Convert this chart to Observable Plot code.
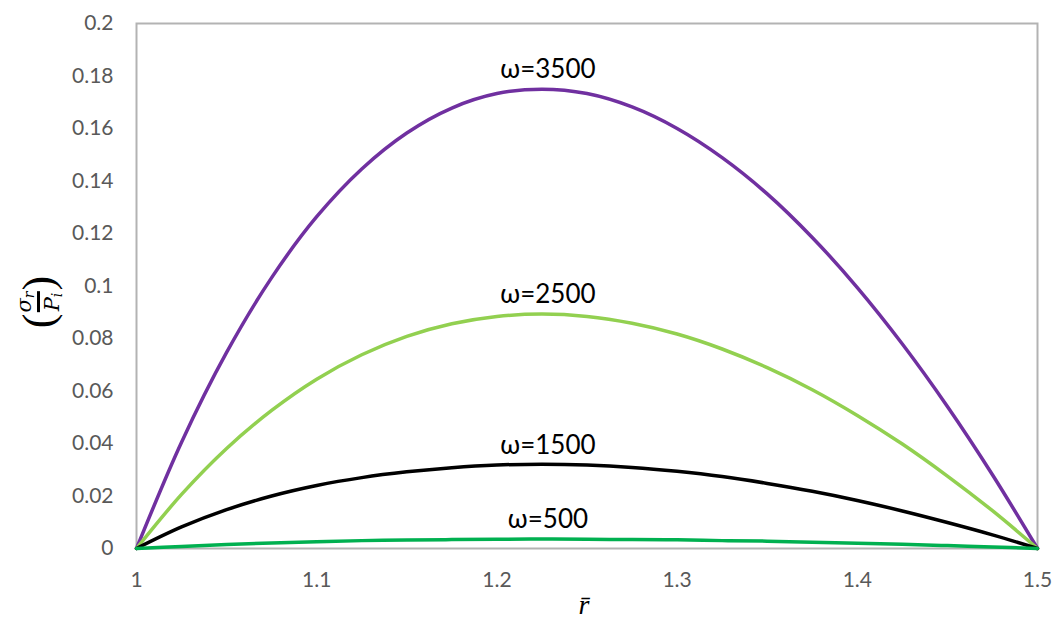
<!DOCTYPE html>
<html>
<head>
<meta charset="utf-8">
<script src="https://cdn.jsdelivr.net/npm/d3@7"></script>
<script src="https://cdn.jsdelivr.net/npm/@observablehq/plot@0.6"></script>
<style>
  html, body { margin: 0; padding: 0; background: #fff; }
  #wrap { position: relative; width: 1054px; height: 619px; overflow: hidden; }
  #ylab {
    position: absolute; left: 39px; top: 302px;
    transform: translate(-50%, -50%) rotate(-90deg);
    font-family: "DejaVu Serif", "Liberation Serif", serif; font-style: italic;
    display: flex; align-items: center; font-size: 21px; color: #000; white-space: nowrap;
  }
  #ylab .paren { font-style: normal; font-size: 44px; line-height: 1; font-family: "Liberation Serif", serif; }
  #ylab .frac { display: inline-flex; flex-direction: column; align-items: center; line-height: 1.0; margin: 0 1px; }
  #ylab .bar { width: 100%; border-top: 3px solid #000; margin: 1px 0 2px 0; }
  #ylab sub { font-size: 14px; vertical-align: -3px; }
  #xlab {
    position: absolute; left: 564px; width: 40px; top: 594px; height: 22px;
    text-align: center;
    font-family: "Liberation Serif", "DejaVu Serif", serif; font-style: italic; font-size: 28px; color: #000;
    line-height: 22px; white-space: nowrap;
  }
</style>
</head>
<body>
<div id="wrap">
  <div id="chart"></div>
  <div id="ylab"><span class="paren">(</span><span class="frac"><span>σ<sub>r</sub></span><span class="bar"></span><span>P<sub>i</sub></span></span><span class="paren">)</span></div>
  <div id="xlab">r̄</div>
</div>
<script>
// radial position (r-bar)
const rBar = [1, 1.025, 1.05, 1.075, 1.1, 1.125, 1.15, 1.175, 1.2, 1.225, 1.25, 1.275, 1.3, 1.325, 1.35, 1.375, 1.4, 1.425, 1.45, 1.475, 1.5];

// sigma_r / P_i for each angular speed
const w3500 = [0, 0.0405, 0.0747, 0.1032, 0.1264, 0.1446, 0.1583, 0.1678, 0.1733, 0.1750, 0.1733, 0.1682, 0.1600, 0.1489, 0.1351, 0.1185, 0.0994, 0.0779, 0.0541, 0.0281, 0];
const w2500 = [0, 0.0206, 0.0381, 0.0526, 0.0645, 0.0738, 0.0808, 0.0856, 0.0884, 0.0893, 0.0884, 0.0858, 0.0817, 0.0760, 0.0689, 0.0605, 0.0507, 0.0398, 0.0276, 0.0144, 0];
const w1500 = [0, 0.0082, 0.0148, 0.0200, 0.0240, 0.0270, 0.0292, 0.0308, 0.0318, 0.0321, 0.0318, 0.0309, 0.0294, 0.0274, 0.0248, 0.0218, 0.0183, 0.0143, 0.0099, 0.0052, 0];
const w500  = [0, 0.0008, 0.0015, 0.0021, 0.0026, 0.0030, 0.0032, 0.0034, 0.0035, 0.0036, 0.0035, 0.0034, 0.0033, 0.0030, 0.0028, 0.0024, 0.0020, 0.0016, 0.0011, 0.0006, 0];

const seriesNames = ["ω=3500", "ω=2500", "ω=1500", "ω=500"];
const seriesColors = ["#7030A0", "#92D050", "#000000", "#00B050"];
const seriesValues = [w3500, w2500, w1500, w500];

const xTicks = [1, 1.1, 1.2, 1.3, 1.4, 1.5];
const yTicks = [0, 0.02, 0.04, 0.06, 0.08, 0.1, 0.12, 0.14, 0.16, 0.18, 0.2];

const data = seriesNames.flatMap((name, s) =>
  rBar.map((r, i) => ({ r, v: seriesValues[s][i], name })));

const peaks = seriesNames.map((name, s) => {
  const i = d3.maxIndex(seriesValues[s]);
  return { r: rBar[i], v: seriesValues[s][i], name };
});

const fmt = d => d === 0 ? "0" : String(+d.toFixed(2));

const chart = Plot.plot({
  width: 1054,
  height: 619,
  marginLeft: 136,
  marginRight: 17,
  marginTop: 23,
  marginBottom: 71,
  style: { fontFamily: "Lato, 'Open Sans', sans-serif", fontSize: "21px", color: "#595959", background: "#fff" },
  x: { domain: [1, 1.5], ticks: xTicks, tickFormat: fmt, tickSize: 0, tickPadding: 24, label: null },
  y: { domain: [0, 0.2], ticks: yTicks, tickFormat: fmt, tickSize: 0, tickPadding: 23, label: null },
  color: { domain: seriesNames, range: seriesColors },
  marks: [
    Plot.frame({ stroke: "#b3b3b3", strokeWidth: 2 }),
    Plot.line(data, { x: "r", y: "v", z: "name", stroke: "name", strokeWidth: 3.5, curve: "catmull-rom" }),
    Plot.text(peaks, { x: "r", y: "v", text: "name", dy: -19, dx: 6, fontSize: 26, fill: "#000", fontFamily: "Lato, 'Open Sans', sans-serif" })
  ]
});
document.getElementById("chart").appendChild(chart);
</script>
</body>
</html>
